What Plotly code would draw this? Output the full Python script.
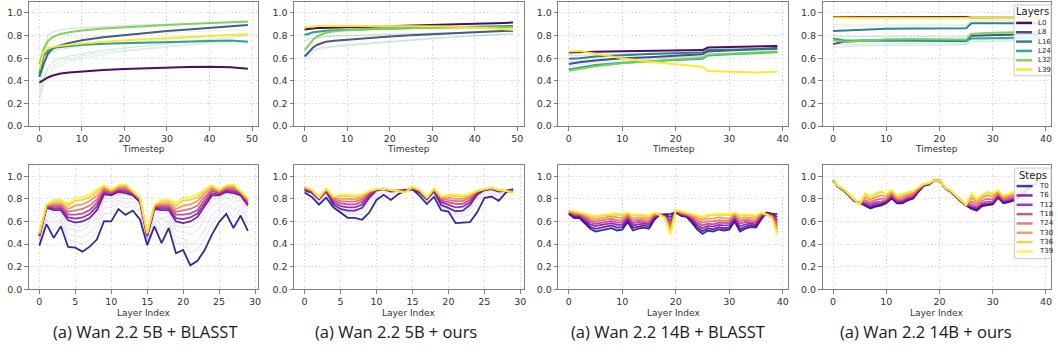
import plotly.graph_objects as go

W, H = 1058, 354

# ---------------- categories / x values ----------------
TS_5B = [0, 1, 2, 3, 4, 5, 7, 10, 15, 20, 25, 30, 35, 40, 45, 49]
TS_14B = [0, 2, 5, 10, 15, 20, 25, 26, 30, 35, 39]
LAYERS_5B = list(range(30))
LAYERS_14B = list(range(40))

HL_NAMES_5B = ["L0", "L6", "L12", "L24", "L29"]
HL_COLORS_5B = ["#440154", "#3b528b", "#1f9e89", "#7ad151", "#fde725"]
HL_NAMES_14B = ["L0", "L8", "L16", "L24", "L32", "L39"]
HL_COLORS_14B = ["#440154", "#414487", "#2a788e", "#22a884", "#7ad151", "#fde725"]
FAINT_TOP_COLORS = ["#48c16e", "#2c728e", "#3b528b", "#a0da39", "#1f9e89", "#6ece58"]

STEP_NAMES = ["T0", "T6", "T12", "T18", "T24", "T30", "T36", "T39"]
STEP_COLORS = ["#0d0887", "#4c02a1", "#8b0aa5", "#b83289", "#db5c68", "#f48849", "#fdc328", "#f0f921"]
FAINT_STEP_COLOR = "#6a00a8"

CAPTIONS = ["(a) Wan 2.2 5B + BLASST", "(a) Wan 2.2 5B + ours",
            "(a) Wan 2.2 14B + BLASST", "(a) Wan 2.2 14B + ours"]

# ---------------- top row: similarity vs timestep ----------------
# Panel 1: Wan 2.2 5B + BLASST
P1_L0 = [0.385, 0.41, 0.43, 0.445, 0.455, 0.465, 0.475, 0.485, 0.497, 0.505, 0.512, 0.518, 0.522, 0.524, 0.52, 0.508]
P1_L6 = [0.435, 0.55, 0.64, 0.68, 0.70, 0.715, 0.735, 0.76, 0.785, 0.805, 0.825, 0.84, 0.855, 0.87, 0.882, 0.893]
P1_L12 = [0.46, 0.62, 0.665, 0.685, 0.695, 0.70, 0.71, 0.72, 0.728, 0.733, 0.738, 0.743, 0.748, 0.754, 0.756, 0.745]
P1_L24 = [0.55, 0.68, 0.75, 0.785, 0.80, 0.815, 0.83, 0.845, 0.862, 0.875, 0.885, 0.895, 0.903, 0.91, 0.918, 0.925]
P1_L29 = [0.50, 0.66, 0.69, 0.70, 0.705, 0.71, 0.72, 0.73, 0.745, 0.76, 0.77, 0.78, 0.79, 0.80, 0.807, 0.813]
P1_FAINT = [
    [0.30, 0.42, 0.50, 0.53, 0.55, 0.57, 0.59, 0.62, 0.65, 0.67, 0.69, 0.71, 0.725, 0.74, 0.75, 0.76],
    [0.25, 0.40, 0.52, 0.56, 0.58, 0.60, 0.62, 0.64, 0.67, 0.69, 0.71, 0.73, 0.75, 0.77, 0.785, 0.80],
    [0.45, 0.68, 0.80, 0.83, 0.84, 0.85, 0.86, 0.87, 0.88, 0.89, 0.895, 0.90, 0.905, 0.91, 0.915, 0.92],
    [0.40, 0.62, 0.72, 0.75, 0.76, 0.77, 0.78, 0.79, 0.80, 0.81, 0.82, 0.83, 0.835, 0.84, 0.845, 0.85],
    [0.35, 0.52, 0.62, 0.65, 0.67, 0.68, 0.69, 0.71, 0.725, 0.74, 0.755, 0.77, 0.785, 0.80, 0.81, 0.82],
    [0.20, 0.36, 0.45, 0.49, 0.52, 0.54, 0.57, 0.60, 0.63, 0.66, 0.68, 0.70, 0.715, 0.73, 0.74, 0.75],
]

# Panel 2: Wan 2.2 5B + ours
P2_L0 = [0.855, 0.86, 0.865, 0.867, 0.868, 0.87, 0.872, 0.875, 0.878, 0.882, 0.886, 0.89, 0.897, 0.904, 0.91, 0.915]
P2_L6 = [0.615, 0.66, 0.695, 0.72, 0.735, 0.745, 0.755, 0.765, 0.78, 0.792, 0.803, 0.813, 0.822, 0.83, 0.838, 0.843]
P2_L12 = [0.805, 0.82, 0.83, 0.835, 0.84, 0.843, 0.847, 0.852, 0.858, 0.864, 0.868, 0.872, 0.876, 0.879, 0.882, 0.885]
P2_L24 = [0.67, 0.72, 0.765, 0.795, 0.81, 0.825, 0.838, 0.848, 0.857, 0.863, 0.867, 0.87, 0.872, 0.874, 0.875, 0.875]
P2_L29 = [0.875, 0.88, 0.884, 0.886, 0.887, 0.887, 0.887, 0.887, 0.887, 0.886, 0.885, 0.883, 0.878, 0.872, 0.862, 0.85]
P2_FAINT = [
    [0.58, 0.62, 0.65, 0.67, 0.68, 0.69, 0.70, 0.71, 0.725, 0.74, 0.755, 0.77, 0.785, 0.80, 0.81, 0.82],
    [0.60, 0.64, 0.67, 0.685, 0.695, 0.70, 0.71, 0.72, 0.735, 0.75, 0.765, 0.775, 0.79, 0.80, 0.81, 0.815],
    [0.75, 0.77, 0.78, 0.785, 0.79, 0.79, 0.795, 0.80, 0.805, 0.81, 0.815, 0.82, 0.825, 0.83, 0.835, 0.84],
    [0.70, 0.74, 0.77, 0.78, 0.79, 0.795, 0.80, 0.805, 0.81, 0.815, 0.82, 0.825, 0.83, 0.83, 0.832, 0.835],
    [0.78, 0.80, 0.82, 0.83, 0.835, 0.84, 0.845, 0.85, 0.855, 0.86, 0.865, 0.868, 0.87, 0.872, 0.874, 0.875],
]

# Panel 3: Wan 2.2 14B + BLASST
P3_L0 = [0.65, 0.655, 0.658, 0.662, 0.665, 0.668, 0.672, 0.695, 0.698, 0.70, 0.708]
P3_L8 = [0.55, 0.565, 0.58, 0.60, 0.61, 0.62, 0.635, 0.66, 0.67, 0.68, 0.69]
P3_L16 = [0.595, 0.60, 0.615, 0.628, 0.637, 0.645, 0.652, 0.672, 0.675, 0.678, 0.682]
P3_L24 = [0.50, 0.515, 0.54, 0.56, 0.575, 0.585, 0.595, 0.625, 0.635, 0.645, 0.655]
P3_L32 = [0.49, 0.505, 0.53, 0.555, 0.575, 0.59, 0.605, 0.63, 0.64, 0.65, 0.66]
P3_L39 = [0.66, 0.665, 0.64, 0.60, 0.57, 0.545, 0.525, 0.488, 0.483, 0.475, 0.48]
P3_FAINT = [
    [0.53, 0.545, 0.56, 0.58, 0.59, 0.60, 0.61, 0.635, 0.64, 0.645, 0.65],
    [0.62, 0.625, 0.63, 0.64, 0.645, 0.65, 0.655, 0.675, 0.68, 0.685, 0.69],
    [0.57, 0.58, 0.59, 0.60, 0.605, 0.61, 0.615, 0.64, 0.645, 0.65, 0.655],
    [0.51, 0.52, 0.545, 0.565, 0.58, 0.59, 0.60, 0.625, 0.63, 0.635, 0.64],
]

# Panel 4: Wan 2.2 14B + ours
P4_L0 = [0.965, 0.965, 0.965, 0.965, 0.965, 0.965, 0.965, 0.958, 0.958, 0.957, 0.957]
P4_L8 = [0.725, 0.745, 0.755, 0.76, 0.758, 0.752, 0.75, 0.80, 0.805, 0.81, 0.815]
P4_L16 = [0.84, 0.845, 0.852, 0.86, 0.862, 0.862, 0.865, 0.91, 0.91, 0.91, 0.91]
P4_L24 = [0.775, 0.76, 0.757, 0.76, 0.758, 0.755, 0.755, 0.775, 0.778, 0.78, 0.785]
P4_L32 = [0.76, 0.745, 0.752, 0.768, 0.77, 0.768, 0.765, 0.815, 0.825, 0.83, 0.835]
P4_L39 = [0.96, 0.958, 0.958, 0.958, 0.958, 0.958, 0.958, 0.955, 0.955, 0.955, 0.955]
P4_FAINT = [
    [0.90, 0.895, 0.895, 0.895, 0.895, 0.895, 0.895, 0.93, 0.93, 0.93, 0.93],
    [0.70, 0.70, 0.71, 0.715, 0.715, 0.715, 0.72, 0.745, 0.75, 0.755, 0.76],
    [0.80, 0.79, 0.79, 0.795, 0.795, 0.79, 0.79, 0.82, 0.825, 0.83, 0.83],
    [0.88, 0.88, 0.882, 0.885, 0.885, 0.885, 0.885, 0.94, 0.94, 0.94, 0.94],
    [0.73, 0.72, 0.725, 0.73, 0.73, 0.728, 0.727, 0.76, 0.765, 0.77, 0.772],
]

# ---------------- bottom row: similarity vs layer index ----------------
# Panel 5: Wan 2.2 5B + BLASST
P5_T0 = [0.386, 0.577, 0.455, 0.557, 0.374, 0.368, 0.333, 0.377, 0.44, 0.603, 0.60, 0.71, 0.658, 0.696, 0.617,
         0.391, 0.557, 0.409, 0.542, 0.319, 0.348, 0.212, 0.252, 0.348, 0.484, 0.594, 0.667, 0.542, 0.652, 0.516]
P5_T6 = [0.47, 0.72, 0.70, 0.70, 0.61, 0.59, 0.60, 0.63, 0.70, 0.84, 0.83, 0.86, 0.85, 0.83, 0.77,
         0.47, 0.71, 0.70, 0.70, 0.60, 0.585, 0.60, 0.64, 0.73, 0.83, 0.83, 0.86, 0.85, 0.83, 0.74]
P5_T12 = [0.475, 0.725, 0.715, 0.715, 0.635, 0.625, 0.635, 0.665, 0.735, 0.855, 0.84, 0.87, 0.865, 0.84, 0.78,
          0.475, 0.72, 0.715, 0.715, 0.63, 0.62, 0.635, 0.67, 0.76, 0.85, 0.84, 0.87, 0.865, 0.84, 0.75]
P5_T18 = [0.48, 0.73, 0.73, 0.73, 0.66, 0.66, 0.67, 0.70, 0.765, 0.87, 0.85, 0.88, 0.88, 0.85, 0.79,
          0.48, 0.73, 0.73, 0.73, 0.66, 0.66, 0.67, 0.70, 0.79, 0.87, 0.85, 0.88, 0.88, 0.85, 0.765]
P5_T24 = [0.485, 0.735, 0.745, 0.745, 0.685, 0.70, 0.71, 0.74, 0.795, 0.885, 0.86, 0.895, 0.895, 0.855, 0.795,
          0.485, 0.735, 0.745, 0.745, 0.685, 0.70, 0.71, 0.74, 0.82, 0.885, 0.86, 0.895, 0.895, 0.855, 0.78]
P5_T30 = [0.49, 0.74, 0.76, 0.76, 0.71, 0.74, 0.75, 0.78, 0.83, 0.90, 0.87, 0.905, 0.91, 0.86, 0.80,
          0.49, 0.74, 0.76, 0.76, 0.71, 0.74, 0.75, 0.78, 0.85, 0.90, 0.87, 0.905, 0.91, 0.86, 0.79]
P5_T36 = [0.495, 0.745, 0.78, 0.78, 0.74, 0.785, 0.79, 0.815, 0.865, 0.915, 0.875, 0.915, 0.925, 0.865, 0.805,
          0.495, 0.745, 0.78, 0.78, 0.74, 0.785, 0.79, 0.815, 0.875, 0.915, 0.875, 0.915, 0.925, 0.865, 0.80]
P5_T39 = [0.50, 0.75, 0.79, 0.79, 0.76, 0.81, 0.815, 0.84, 0.885, 0.92, 0.88, 0.92, 0.93, 0.87, 0.81,
          0.50, 0.75, 0.79, 0.79, 0.76, 0.81, 0.815, 0.84, 0.885, 0.92, 0.88, 0.92, 0.93, 0.87, 0.81]
P5_FAINT = [
    [0.41, 0.62, 0.52, 0.60, 0.44, 0.42, 0.40, 0.44, 0.51, 0.67, 0.67, 0.76, 0.72, 0.74, 0.67,
     0.41, 0.60, 0.49, 0.59, 0.40, 0.41, 0.32, 0.35, 0.45, 0.58, 0.66, 0.73, 0.63, 0.71, 0.58],
    [0.43, 0.65, 0.58, 0.63, 0.49, 0.47, 0.46, 0.50, 0.57, 0.72, 0.72, 0.79, 0.76, 0.77, 0.70,
     0.43, 0.64, 0.56, 0.62, 0.46, 0.45, 0.40, 0.43, 0.53, 0.66, 0.71, 0.77, 0.70, 0.75, 0.63],
    [0.45, 0.68, 0.63, 0.66, 0.54, 0.52, 0.52, 0.56, 0.63, 0.78, 0.77, 0.82, 0.80, 0.80, 0.73,
     0.45, 0.67, 0.62, 0.65, 0.52, 0.51, 0.48, 0.52, 0.62, 0.74, 0.77, 0.82, 0.77, 0.79, 0.68],
    [0.46, 0.70, 0.67, 0.68, 0.58, 0.56, 0.56, 0.60, 0.67, 0.81, 0.80, 0.84, 0.83, 0.82, 0.75,
     0.46, 0.69, 0.67, 0.68, 0.56, 0.55, 0.55, 0.59, 0.68, 0.79, 0.80, 0.84, 0.82, 0.81, 0.71],
]

# Panel 6: Wan 2.2 5B + ours
P6_T0 = [0.855, 0.817, 0.748, 0.81, 0.725, 0.68, 0.632, 0.632, 0.615, 0.68, 0.79, 0.835, 0.79, 0.84, 0.87,
         0.884, 0.826, 0.754, 0.817, 0.70, 0.687, 0.586, 0.588, 0.594, 0.68, 0.806, 0.82, 0.783, 0.855, 0.884]
P6_T6 = [0.875, 0.855, 0.795, 0.865, 0.75, 0.71, 0.695, 0.695, 0.72, 0.81, 0.875, 0.885, 0.865, 0.87, 0.88,
         0.885, 0.855, 0.795, 0.865, 0.745, 0.72, 0.69, 0.695, 0.745, 0.835, 0.875, 0.885, 0.865, 0.87, 0.885]
P6_T12 = [0.88, 0.86, 0.80, 0.87, 0.77, 0.735, 0.725, 0.725, 0.75, 0.83, 0.88, 0.887, 0.87, 0.87, 0.875,
          0.888, 0.86, 0.80, 0.87, 0.77, 0.745, 0.725, 0.73, 0.77, 0.85, 0.88, 0.888, 0.87, 0.87, 0.88]
P6_T18 = [0.89, 0.865, 0.805, 0.875, 0.785, 0.76, 0.75, 0.75, 0.775, 0.845, 0.882, 0.888, 0.873, 0.87, 0.87,
          0.89, 0.865, 0.805, 0.875, 0.785, 0.77, 0.755, 0.755, 0.79, 0.86, 0.882, 0.89, 0.873, 0.87, 0.875]
P6_T24 = [0.895, 0.87, 0.807, 0.88, 0.80, 0.78, 0.775, 0.775, 0.795, 0.855, 0.884, 0.889, 0.875, 0.87, 0.866,
          0.895, 0.87, 0.807, 0.88, 0.80, 0.79, 0.78, 0.78, 0.81, 0.865, 0.884, 0.892, 0.875, 0.87, 0.868]
P6_T30 = [0.90, 0.875, 0.808, 0.885, 0.81, 0.80, 0.80, 0.795, 0.815, 0.862, 0.885, 0.889, 0.877, 0.87, 0.862,
          0.90, 0.875, 0.808, 0.885, 0.81, 0.81, 0.80, 0.80, 0.825, 0.868, 0.885, 0.895, 0.877, 0.87, 0.86]
P6_T36 = [0.905, 0.878, 0.81, 0.888, 0.818, 0.825, 0.825, 0.815, 0.83, 0.866, 0.885, 0.89, 0.878, 0.87, 0.858,
          0.905, 0.878, 0.81, 0.888, 0.818, 0.83, 0.825, 0.82, 0.84, 0.87, 0.885, 0.898, 0.878, 0.87, 0.855]
P6_T39 = [0.91, 0.88, 0.81, 0.89, 0.82, 0.84, 0.84, 0.83, 0.84, 0.87, 0.885, 0.89, 0.88, 0.87, 0.855,
          0.91, 0.88, 0.81, 0.89, 0.82, 0.84, 0.84, 0.83, 0.845, 0.87, 0.885, 0.90, 0.88, 0.87, 0.85]
P6_FAINT = [
    [0.865, 0.835, 0.77, 0.835, 0.735, 0.69, 0.66, 0.66, 0.66, 0.74, 0.83, 0.86, 0.83, 0.855, 0.88,
     0.885, 0.84, 0.775, 0.84, 0.72, 0.70, 0.635, 0.64, 0.66, 0.75, 0.84, 0.85, 0.82, 0.86, 0.885],
    [0.87, 0.845, 0.785, 0.85, 0.745, 0.70, 0.68, 0.68, 0.695, 0.78, 0.86, 0.875, 0.85, 0.865, 0.88,
     0.885, 0.85, 0.785, 0.855, 0.735, 0.71, 0.665, 0.67, 0.71, 0.80, 0.86, 0.87, 0.845, 0.865, 0.885],
]

# Panel 7: Wan 2.2 14B + BLASST
P7_T0 = [0.666, 0.63, 0.63, 0.58, 0.536, 0.51, 0.52, 0.53, 0.54, 0.52, 0.527, 0.594, 0.52, 0.536, 0.545, 0.536, 0.614, 0.66, 0.66, 0.666,
         0.68, 0.65, 0.64, 0.59, 0.53, 0.49, 0.52, 0.51, 0.53, 0.52, 0.527, 0.60, 0.51, 0.536, 0.55, 0.545, 0.62, 0.68, 0.67, 0.666]
P7_T6 = [0.67, 0.64, 0.64, 0.595, 0.555, 0.535, 0.545, 0.555, 0.565, 0.545, 0.55, 0.61, 0.545, 0.555, 0.565, 0.555, 0.625, 0.66, 0.655, 0.64,
         0.685, 0.655, 0.645, 0.605, 0.55, 0.515, 0.54, 0.53, 0.55, 0.54, 0.545, 0.61, 0.53, 0.555, 0.565, 0.56, 0.63, 0.675, 0.665, 0.64]
P7_T12 = [0.675, 0.65, 0.645, 0.61, 0.575, 0.56, 0.57, 0.575, 0.585, 0.57, 0.57, 0.625, 0.565, 0.575, 0.58, 0.575, 0.635, 0.66, 0.65, 0.61,
          0.69, 0.66, 0.65, 0.62, 0.57, 0.54, 0.56, 0.555, 0.57, 0.565, 0.565, 0.625, 0.555, 0.575, 0.58, 0.575, 0.64, 0.67, 0.66, 0.61]
P7_T18 = [0.68, 0.66, 0.655, 0.625, 0.595, 0.58, 0.59, 0.595, 0.605, 0.59, 0.59, 0.64, 0.585, 0.595, 0.595, 0.59, 0.645, 0.66, 0.645, 0.585,
          0.69, 0.665, 0.655, 0.63, 0.59, 0.565, 0.58, 0.575, 0.59, 0.585, 0.585, 0.64, 0.58, 0.595, 0.595, 0.59, 0.65, 0.668, 0.655, 0.585]
P7_T24 = [0.685, 0.665, 0.66, 0.64, 0.61, 0.60, 0.61, 0.615, 0.625, 0.61, 0.61, 0.65, 0.605, 0.615, 0.61, 0.605, 0.655, 0.66, 0.64, 0.56,
          0.695, 0.67, 0.66, 0.64, 0.61, 0.59, 0.60, 0.60, 0.61, 0.605, 0.605, 0.65, 0.605, 0.615, 0.61, 0.605, 0.66, 0.665, 0.65, 0.56]
P7_T30 = [0.69, 0.675, 0.67, 0.65, 0.63, 0.62, 0.63, 0.635, 0.645, 0.635, 0.63, 0.665, 0.625, 0.635, 0.63, 0.625, 0.665, 0.66, 0.635, 0.53,
          0.695, 0.68, 0.67, 0.65, 0.63, 0.615, 0.625, 0.625, 0.635, 0.63, 0.625, 0.665, 0.625, 0.635, 0.63, 0.625, 0.67, 0.662, 0.64, 0.53]
P7_T36 = [0.695, 0.685, 0.675, 0.665, 0.645, 0.64, 0.65, 0.655, 0.66, 0.66, 0.655, 0.675, 0.65, 0.655, 0.65, 0.645, 0.675, 0.66, 0.632, 0.50,
          0.70, 0.685, 0.675, 0.665, 0.645, 0.635, 0.65, 0.655, 0.66, 0.66, 0.655, 0.675, 0.65, 0.655, 0.65, 0.645, 0.675, 0.66, 0.635, 0.50]
P7_T39 = [0.70, 0.69, 0.68, 0.67, 0.655, 0.65, 0.66, 0.665, 0.67, 0.67, 0.665, 0.68, 0.66, 0.665, 0.66, 0.655, 0.68, 0.66, 0.63, 0.48,
          0.70, 0.69, 0.68, 0.67, 0.655, 0.645, 0.66, 0.665, 0.67, 0.67, 0.665, 0.68, 0.66, 0.665, 0.66, 0.655, 0.68, 0.66, 0.63, 0.48]
P7_FAINT = [
    [0.668, 0.635, 0.635, 0.588, 0.545, 0.522, 0.532, 0.542, 0.552, 0.532, 0.538, 0.602, 0.532, 0.545, 0.555, 0.545, 0.62, 0.66, 0.658, 0.655,
     0.682, 0.652, 0.642, 0.598, 0.54, 0.502, 0.53, 0.52, 0.54, 0.53, 0.536, 0.605, 0.52, 0.545, 0.558, 0.552, 0.625, 0.678, 0.668, 0.655],
]

# Panel 8: Wan 2.2 14B + ours
P8_T0 = [0.962, 0.904, 0.875, 0.826, 0.78, 0.765, 0.74, 0.715, 0.73, 0.74, 0.76, 0.805, 0.76, 0.76, 0.785, 0.80, 0.86, 0.915, 0.925, 0.962,
         0.962, 0.895, 0.865, 0.82, 0.775, 0.74, 0.71, 0.695, 0.735, 0.745, 0.75, 0.81, 0.76, 0.77, 0.785, 0.81, 0.85, 0.90, 0.93, 0.965]
P8_T6 = [0.962, 0.905, 0.877, 0.828, 0.782, 0.765, 0.745, 0.725, 0.74, 0.75, 0.765, 0.81, 0.765, 0.765, 0.79, 0.805, 0.865, 0.917, 0.927, 0.962,
         0.962, 0.896, 0.867, 0.822, 0.777, 0.74, 0.72, 0.705, 0.74, 0.75, 0.755, 0.815, 0.765, 0.775, 0.79, 0.815, 0.855, 0.903, 0.932, 0.965]
P8_T12 = [0.962, 0.906, 0.878, 0.83, 0.784, 0.762, 0.755, 0.74, 0.755, 0.76, 0.775, 0.82, 0.775, 0.775, 0.80, 0.815, 0.87, 0.92, 0.93, 0.962,
          0.962, 0.897, 0.868, 0.824, 0.779, 0.742, 0.73, 0.715, 0.75, 0.76, 0.765, 0.82, 0.775, 0.785, 0.80, 0.825, 0.86, 0.906, 0.935, 0.966]
P8_T18 = [0.962, 0.907, 0.88, 0.832, 0.786, 0.76, 0.77, 0.755, 0.77, 0.775, 0.785, 0.83, 0.78, 0.785, 0.81, 0.825, 0.875, 0.922, 0.932, 0.962,
          0.962, 0.898, 0.869, 0.825, 0.78, 0.743, 0.75, 0.73, 0.765, 0.775, 0.775, 0.83, 0.785, 0.795, 0.81, 0.835, 0.865, 0.91, 0.938, 0.967]
P8_T24 = [0.962, 0.908, 0.881, 0.834, 0.788, 0.758, 0.79, 0.77, 0.79, 0.80, 0.80, 0.845, 0.795, 0.80, 0.825, 0.84, 0.882, 0.925, 0.934, 0.962,
          0.962, 0.899, 0.87, 0.826, 0.783, 0.744, 0.775, 0.75, 0.785, 0.80, 0.795, 0.845, 0.80, 0.81, 0.825, 0.85, 0.875, 0.915, 0.94, 0.968]
P8_T30 = [0.962, 0.909, 0.883, 0.836, 0.79, 0.755, 0.815, 0.79, 0.815, 0.83, 0.82, 0.86, 0.81, 0.82, 0.84, 0.855, 0.89, 0.927, 0.936, 0.962,
          0.962, 0.90, 0.872, 0.828, 0.786, 0.745, 0.81, 0.77, 0.81, 0.83, 0.82, 0.86, 0.81, 0.825, 0.84, 0.865, 0.888, 0.922, 0.944, 0.969]
P8_T36 = [0.962, 0.91, 0.884, 0.838, 0.793, 0.752, 0.84, 0.81, 0.84, 0.86, 0.84, 0.875, 0.825, 0.84, 0.855, 0.865, 0.897, 0.929, 0.938, 0.962,
          0.962, 0.90, 0.874, 0.83, 0.788, 0.745, 0.84, 0.79, 0.83, 0.855, 0.84, 0.87, 0.825, 0.84, 0.855, 0.875, 0.897, 0.928, 0.948, 0.97]
P8_T39 = [0.962, 0.91, 0.885, 0.84, 0.795, 0.75, 0.85, 0.82, 0.85, 0.87, 0.845, 0.88, 0.83, 0.845, 0.86, 0.87, 0.90, 0.93, 0.94, 0.962,
          0.962, 0.90, 0.875, 0.83, 0.79, 0.745, 0.85, 0.80, 0.84, 0.86, 0.85, 0.875, 0.83, 0.845, 0.86, 0.88, 0.90, 0.93, 0.95, 0.97]

# ---------------- layout helpers ----------------
COL_PX = [(29, 259), (295, 525), (560, 790), (825, 1054)]
ROW_PX = [(0.7, 127.3), (166.7, 293.3)]
CAPTION_X_PX = [145, 397.5, 669.5, 929]


def fx(px):
    return px / W


def fy(py):
    return 1 - py / H


fig = go.Figure()


def add_line(idx, x, y, color, width, opacity, name):
    sfx = "" if idx == 1 else str(idx)
    fig.add_trace(go.Scatter(
        x=x, y=y, mode="lines", name=name, showlegend=False,
        line=dict(color=color, width=width), opacity=opacity,
        xaxis="x" + sfx, yaxis="y" + sfx, hoverinfo="skip"))


# top row
top_panels = [
    (1, TS_5B, P1_FAINT, [P1_L0, P1_L6, P1_L12, P1_L24, P1_L29], HL_NAMES_5B, HL_COLORS_5B),
    (2, TS_5B, P2_FAINT, [P2_L0, P2_L6, P2_L12, P2_L24, P2_L29], HL_NAMES_5B, HL_COLORS_5B),
    (3, TS_14B, P3_FAINT, [P3_L0, P3_L8, P3_L16, P3_L24, P3_L32, P3_L39], HL_NAMES_14B, HL_COLORS_14B),
    (4, TS_14B, P4_FAINT, [P4_L0, P4_L8, P4_L16, P4_L24, P4_L32, P4_L39], HL_NAMES_14B, HL_COLORS_14B),
]
for idx, xs, faint, series, names, colors in top_panels:
    for k, ys in enumerate(faint):
        add_line(idx, xs, ys, FAINT_TOP_COLORS[k % len(FAINT_TOP_COLORS)], 1, 0.22, "faint")
    for ys, nm, c in zip(series, names, colors):
        add_line(idx, xs, ys, c, 2, 0.95, nm)

# bottom row
bottom_panels = [
    (5, LAYERS_5B, P5_FAINT, [P5_T0, P5_T6, P5_T12, P5_T18, P5_T24, P5_T30, P5_T36, P5_T39]),
    (6, LAYERS_5B, P6_FAINT, [P6_T0, P6_T6, P6_T12, P6_T18, P6_T24, P6_T30, P6_T36, P6_T39]),
    (7, LAYERS_14B, P7_FAINT, [P7_T0, P7_T6, P7_T12, P7_T18, P7_T24, P7_T30, P7_T36, P7_T39]),
    (8, LAYERS_14B, [], [P8_T0, P8_T6, P8_T12, P8_T18, P8_T24, P8_T30, P8_T36, P8_T39]),
]
for idx, xs, faint, series in bottom_panels:
    for ys in faint:
        add_line(idx, xs, ys, FAINT_STEP_COLOR, 1, 0.13, "faint")
    for ys, nm, c in zip(series, STEP_NAMES, STEP_COLORS):
        add_line(idx, xs, ys, c, 1.8, 0.85, nm)

# axes
X_RANGES = [(-2.45, 51.45), (-2.45, 51.45), (-1.95, 40.95), (-1.95, 40.95),
            (-1.45, 30.45), (-1.45, 30.45), (-1.95, 40.95), (-1.95, 40.95)]
X_DTICK = [10, 10, 10, 10, 5, 5, 10, 10]
common = dict(showline=True, linecolor="#808080", linewidth=1.3, mirror=True,
              ticks="outside", ticklen=3.5, tickwidth=1, tickcolor="#808080",
              showgrid=True, gridcolor="#dddddd", griddash="1.5px,2px", gridwidth=0.8,
              zeroline=False, tickfont=dict(family="DejaVu Sans", size=9.5, color="#333333"))
layout_axes = {}
for i in range(8):
    n = i + 1
    sfx = "" if n == 1 else str(n)
    col = i % 4
    row = i // 4
    x0, x1 = COL_PX[col]
    y0, y1 = ROW_PX[row]
    layout_axes["xaxis" + sfx] = dict(common, domain=[fx(x0), fx(x1)], range=list(X_RANGES[i]),
                                      tick0=0, dtick=X_DTICK[i], anchor="y" + sfx)
    layout_axes["yaxis" + sfx] = dict(common, domain=[fy(y1), fy(y0)], range=[0, 1.1],
                                      tick0=0, dtick=0.2, tickformat=".1f", anchor="x" + sfx)

annotations = []
shapes = []


def add_text(text, px, py, size, family="DejaVu Sans", color="#333333", xanchor="center"):
    annotations.append(dict(text=text, x=fx(px), y=fy(py), xref="paper", yref="paper",
                            xanchor=xanchor, yanchor="middle", showarrow=False,
                            font=dict(family=family, size=size, color=color)))


for col in range(4):
    cx = sum(COL_PX[col]) / 2
    add_text("Timestep", cx, 151, 9)
    add_text("Layer Index", cx, 317.3, 9)
    add_text(CAPTIONS[col], CAPTION_X_PX[col], 336.7, 16.5, family="Open Sans", color="#1a1a1a")


def add_legend(title, names, colors, box_px, title_y, row_y0, row_dy, opacity):
    bx0, by0, bx1, by1 = box_px
    shapes.append(dict(type="rect", xref="paper", yref="paper", x0=fx(bx0), x1=fx(bx1),
                       y0=fy(by1), y1=fy(by0), fillcolor="rgba(255,255,255,0.85)",
                       line=dict(color="#cccccc", width=1), layer="above"))
    add_text(title, (bx0 + bx1) / 2, title_y, 10, color="#222222")
    for k, (nm, c) in enumerate(zip(names, colors)):
        yy = row_y0 + k * row_dy
        shapes.append(dict(type="line", xref="paper", yref="paper", x0=fx(bx0 + 2), x1=fx(bx0 + 18),
                           y0=fy(yy), y1=fy(yy), line=dict(color=c, width=2.5), opacity=opacity,
                           layer="above"))
        add_text(nm, bx0 + 22, yy, 7, color="#222222", xanchor="left")


add_legend("Layers", HL_NAMES_14B, HL_COLORS_14B, (1017, 4, 1054, 76), 11, 22.3, 9.5, 0.95)
add_legend("Steps", STEP_NAMES, STEP_COLORS, (1017.5, 170, 1054, 262), 177.5, 188.3, 9.5, 0.8)

fig.update_layout(
    width=W, height=H, margin=dict(l=0, r=0, t=0, b=0),
    paper_bgcolor="white", plot_bgcolor="white", showlegend=False,
    annotations=annotations, shapes=shapes, **layout_axes)

fig.write_html("out.html", config={"displayModeBar": False},
               post_script="document.body.style.margin='0';")
